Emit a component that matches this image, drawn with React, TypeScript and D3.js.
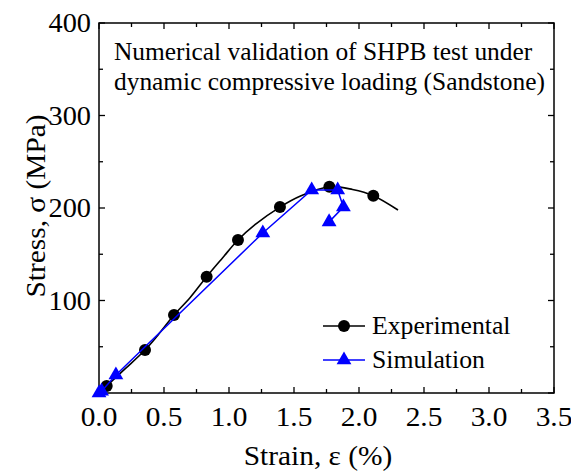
import React from "react";
import * as d3 from "d3";

// Experimental curve (continuous line)
const expCurveStrain = [0, 0.059, 0.2, 0.354, 0.45, 0.577, 0.7, 0.828, 0.95, 1.069, 1.2, 1.392, 1.55, 1.772, 1.95, 2.11, 2.3];
const expCurveStress = [0, 7.6, 26, 46.5, 62, 84.3, 103, 125.7, 146, 165.4, 182, 201, 213, 223, 220, 213.3, 197.8];
// Experimental markers
const expMarkStrain = [0.059, 0.354, 0.577, 0.828, 1.069, 1.392, 1.772, 2.11];
const expMarkStress = [7.6, 46.5, 84.3, 125.7, 165.4, 201, 223, 213.3];
// Simulation
const simStrain = [0, 0.02, 0.13, 1.26, 1.636, 1.836, 1.88, 1.77];
const simStress = [0, 2, 19.5, 173, 219.5, 219.5, 201, 185];

const xTicks = [0, 0.5, 1, 1.5, 2, 2.5, 3, 3.5];
const yTicks = [100, 200, 300, 400];
const titleLines = ["Numerical validation of SHPB test under", "dynamic compressive loading (Sandstone)"];
const legendLabels = ["Experimental", "Simulation"];

const W = 571, H = 471;
const L = 99, R = 554, T = 23, B = 393;
const FONT = "Liberation Serif";
const SX = 1.05;

function Txt(props: { x: number; y: number; size: number; anchor?: string; rot?: number; children: React.ReactNode }) {
  const { x, y, size, anchor = "start", rot = 0, children } = props;
  return (
    <text
      transform={`translate(${x},${y}) rotate(${rot}) scale(${SX},1)`}
      textAnchor={anchor as any}
      fontSize={size}
      style={{ fontFamily: FONT }}
      fill="black"
    >
      {children}
    </text>
  );
}

export default function App() {
  const x = d3.scaleLinear().domain([0, 3.5]).range([L, R]);
  const y = d3.scaleLinear().domain([0, 400]).range([B, T]);

  const expLine = d3.line<number>()
    .x((_, i) => x(expCurveStrain[i]))
    .y((_, i) => y(expCurveStress[i]))
    .curve(d3.curveCatmullRom.alpha(0.5))(expCurveStress as any) as string;
  const simLine = d3.line<number>()
    .x((_, i) => x(simStrain[i]))
    .y((_, i) => y(simStress[i]))(simStress as any) as string;

  const tri = d3.symbol().type(d3.symbolTriangle).size(95)() as string;

  const xMinor = d3.range(0, 3.5001, 0.25);
  const yMinor = d3.range(0, 400.001, 50);
  const tl = 6;

  return (
    <svg width={W} height={H} style={{ position: "absolute", left: 0, top: 0 }}>
      <rect x={0} y={0} width={W} height={H} fill="white" />
      {/* ticks */}
      {xMinor.map((v, i) => {
        const len = i % 2 === 0 ? tl : tl - 2;
        return (
          <g key={"xt" + i} stroke="black" strokeWidth={1.3}>
            <line x1={x(v)} x2={x(v)} y1={B} y2={B - len} />
            <line x1={x(v)} x2={x(v)} y1={T} y2={T + len} />
          </g>
        );
      })}
      {yMinor.map((v, i) => {
        const len = i % 2 === 0 ? tl : tl - 2;
        return (
          <g key={"yt" + i} stroke="black" strokeWidth={1.3}>
            <line x1={L} x2={L + len} y1={y(v)} y2={y(v)} />
            <line x1={R} x2={R - len} y1={y(v)} y2={y(v)} />
          </g>
        );
      })}
      <rect x={L} y={T} width={R - L} height={B - T} fill="none" stroke="black" strokeWidth={1.5} />
      {xTicks.map((v) => (
        <Txt key={"xl" + v} x={x(v)} y={426} size={28} anchor="middle">{v.toFixed(1)}</Txt>
      ))}
      {yTicks.map((v) => (
        <Txt key={"yl" + v} x={L - 8} y={y(v) + 9} size={27} anchor="end">{v}</Txt>
      ))}
      <Txt x={318} y={465} size={28} anchor="middle">Strain, ε (%)</Txt>
      <Txt x={45} y={206} size={28} anchor="middle" rot={-90}>Stress, σ (MPa)</Txt>
      {titleLines.map((t, i) => (
        <Txt key={"t" + i} x={114} y={60 + i * 30} size={24.2}>{t}</Txt>
      ))}
      {/* experimental */}
      <path d={expLine} fill="none" stroke="black" strokeWidth={1.6} />
      {expMarkStrain.map((s, i) => (
        <circle key={"c" + i} cx={x(s)} cy={y(expMarkStress[i])} r={6} fill="black" />
      ))}
      {/* simulation */}
      <path d={simLine} fill="none" stroke="#0000ff" strokeWidth={1.5} />
      {simStrain.map((s, i) => (
        <path key={"s" + i} d={tri} transform={`translate(${x(s)},${y(simStress[i])})`} fill="#0000ff" />
      ))}
      {/* legend */}
      {legendLabels.map((lab, i) => {
        const ly = 326 + i * 34;
        const col = i === 0 ? "black" : "#0000ff";
        return (
          <g key={"lg" + i}>
            <line x1={323} x2={365} y1={ly} y2={ly} stroke={col} strokeWidth={1.5} />
            {i === 0 ? (
              <circle cx={344} cy={ly} r={6} fill={col} />
            ) : (
              <path d={tri} transform={`translate(344,${ly})`} fill={col} />
            )}
            <Txt x={372} y={ly + 8} size={24.5}>{lab}</Txt>
          </g>
        );
      })}
    </svg>
  );
}
